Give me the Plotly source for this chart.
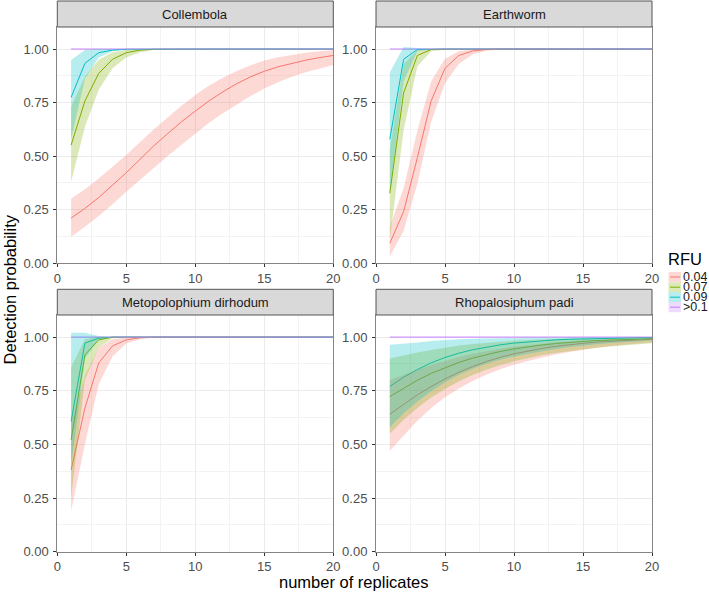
import plotly.graph_objects as go

# ---------------- data ----------------
replicates = [1, 2, 3, 4, 5, 6, 7, 8, 9, 10, 11, 12, 13, 14, 15, 16, 17, 18, 19, 20]
rfu_levels = ["0.04", "0.07", "0.09", ">0.1"]
panels = ["Collembola", "Earthworm", "Metopolophium dirhodum", "Rhopalosiphum padi"]

# Collembola
col_004 = [0.210, 0.255, 0.306, 0.362, 0.422, 0.485, 0.548, 0.605, 0.660, 0.710, 0.758, 0.800, 0.838, 0.870, 0.896, 0.917, 0.934, 0.948, 0.960, 0.970]
col_004_hi = [0.300, 0.345, 0.395, 0.450, 0.505, 0.565, 0.625, 0.680, 0.735, 0.785, 0.830, 0.866, 0.897, 0.924, 0.946, 0.962, 0.974, 0.983, 0.990, 0.995]
col_004_lo = [0.123, 0.170, 0.220, 0.275, 0.333, 0.390, 0.445, 0.500, 0.553, 0.606, 0.655, 0.700, 0.740, 0.780, 0.815, 0.845, 0.870, 0.892, 0.910, 0.925]
col_007 = [0.551, 0.757, 0.886, 0.952, 0.983, 0.995, 0.999, 1.0, 1.0, 1.0, 1.0, 1.0, 1.0, 1.0, 1.0, 1.0, 1.0, 1.0, 1.0, 1.0]
col_007_hi = [0.730, 0.870, 0.950, 0.985, 0.997, 1.0, 1.0, 1.0, 1.0, 1.0, 1.0, 1.0, 1.0, 1.0, 1.0, 1.0, 1.0, 1.0, 1.0, 1.0]
col_007_lo = [0.380, 0.637, 0.810, 0.910, 0.960, 0.985, 0.995, 0.999, 1.0, 1.0, 1.0, 1.0, 1.0, 1.0, 1.0, 1.0, 1.0, 1.0, 1.0, 1.0]
col_009 = [0.774, 0.933, 0.983, 0.995, 0.999, 1.0, 1.0, 1.0, 1.0, 1.0, 1.0, 1.0, 1.0, 1.0, 1.0, 1.0, 1.0, 1.0, 1.0, 1.0]
col_009_hi = [0.949, 0.995, 1.0, 1.0, 1.0, 1.0, 1.0, 1.0, 1.0, 1.0, 1.0, 1.0, 1.0, 1.0, 1.0, 1.0, 1.0, 1.0, 1.0, 1.0]
col_009_lo = [0.580, 0.860, 0.960, 0.990, 0.998, 1.0, 1.0, 1.0, 1.0, 1.0, 1.0, 1.0, 1.0, 1.0, 1.0, 1.0, 1.0, 1.0, 1.0, 1.0]
col_01 = [1.0, 1.0, 1.0, 1.0, 1.0, 1.0, 1.0, 1.0, 1.0, 1.0, 1.0, 1.0, 1.0, 1.0, 1.0, 1.0, 1.0, 1.0, 1.0, 1.0]

# Earthworm
ew_004 = [0.092, 0.240, 0.493, 0.758, 0.910, 0.970, 0.991, 0.998, 1.0, 1.0, 1.0, 1.0, 1.0, 1.0, 1.0, 1.0, 1.0, 1.0, 1.0, 1.0]
ew_004_hi = [0.170, 0.350, 0.620, 0.850, 0.955, 0.990, 0.998, 1.0, 1.0, 1.0, 1.0, 1.0, 1.0, 1.0, 1.0, 1.0, 1.0, 1.0, 1.0, 1.0]
ew_004_lo = [0.030, 0.150, 0.370, 0.660, 0.840, 0.930, 0.975, 0.992, 0.998, 1.0, 1.0, 1.0, 1.0, 1.0, 1.0, 1.0, 1.0, 1.0, 1.0, 1.0]
ew_007 = [0.326, 0.795, 0.970, 0.998, 1.0, 1.0, 1.0, 1.0, 1.0, 1.0, 1.0, 1.0, 1.0, 1.0, 1.0, 1.0, 1.0, 1.0, 1.0, 1.0]
ew_007_hi = [0.530, 0.930, 0.995, 1.0, 1.0, 1.0, 1.0, 1.0, 1.0, 1.0, 1.0, 1.0, 1.0, 1.0, 1.0, 1.0, 1.0, 1.0, 1.0, 1.0]
ew_007_lo = [0.110, 0.620, 0.920, 0.990, 0.998, 1.0, 1.0, 1.0, 1.0, 1.0, 1.0, 1.0, 1.0, 1.0, 1.0, 1.0, 1.0, 1.0, 1.0, 1.0]
ew_009 = [0.578, 0.952, 0.998, 1.0, 1.0, 1.0, 1.0, 1.0, 1.0, 1.0, 1.0, 1.0, 1.0, 1.0, 1.0, 1.0, 1.0, 1.0, 1.0, 1.0]
ew_009_hi = [0.890, 1.010, 1.005, 1.0, 1.0, 1.0, 1.0, 1.0, 1.0, 1.0, 1.0, 1.0, 1.0, 1.0, 1.0, 1.0, 1.0, 1.0, 1.0, 1.0]
ew_009_lo = [0.330, 0.850, 0.990, 0.999, 1.0, 1.0, 1.0, 1.0, 1.0, 1.0, 1.0, 1.0, 1.0, 1.0, 1.0, 1.0, 1.0, 1.0, 1.0, 1.0]
ew_01 = [1.0, 1.0, 1.0, 1.0, 1.0, 1.0, 1.0, 1.0, 1.0, 1.0, 1.0, 1.0, 1.0, 1.0, 1.0, 1.0, 1.0, 1.0, 1.0, 1.0]

# Metopolophium dirhodum
md_004 = [0.381, 0.669, 0.879, 0.959, 0.987, 0.997, 1.0, 1.0, 1.0, 1.0, 1.0, 1.0, 1.0, 1.0, 1.0, 1.0, 1.0, 1.0, 1.0, 1.0]
md_004_hi = [0.600, 0.820, 0.950, 0.990, 0.998, 1.0, 1.0, 1.0, 1.0, 1.0, 1.0, 1.0, 1.0, 1.0, 1.0, 1.0, 1.0, 1.0, 1.0, 1.0]
md_004_lo = [0.190, 0.500, 0.780, 0.910, 0.970, 0.990, 0.998, 1.0, 1.0, 1.0, 1.0, 1.0, 1.0, 1.0, 1.0, 1.0, 1.0, 1.0, 1.0, 1.0]
md_007 = [0.521, 0.917, 0.987, 1.0, 1.0, 1.0, 1.0, 1.0, 1.0, 1.0, 1.0, 1.0, 1.0, 1.0, 1.0, 1.0, 1.0, 1.0, 1.0, 1.0]
md_007_hi = [0.860, 0.990, 1.0, 1.0, 1.0, 1.0, 1.0, 1.0, 1.0, 1.0, 1.0, 1.0, 1.0, 1.0, 1.0, 1.0, 1.0, 1.0, 1.0, 1.0]
md_007_lo = [0.250, 0.800, 0.950, 0.995, 1.0, 1.0, 1.0, 1.0, 1.0, 1.0, 1.0, 1.0, 1.0, 1.0, 1.0, 1.0, 1.0, 1.0, 1.0, 1.0]
md_009 = [0.606, 0.972, 0.995, 1.0, 1.0, 1.0, 1.0, 1.0, 1.0, 1.0, 1.0, 1.0, 1.0, 1.0, 1.0, 1.0, 1.0, 1.0, 1.0, 1.0]
md_009_hi = [1.020, 1.020, 1.005, 1.0, 1.0, 1.0, 1.0, 1.0, 1.0, 1.0, 1.0, 1.0, 1.0, 1.0, 1.0, 1.0, 1.0, 1.0, 1.0, 1.0]
md_009_lo = [0.400, 0.900, 0.990, 1.0, 1.0, 1.0, 1.0, 1.0, 1.0, 1.0, 1.0, 1.0, 1.0, 1.0, 1.0, 1.0, 1.0, 1.0, 1.0, 1.0]
md_01 = [1.0, 1.0, 1.0, 1.0, 1.0, 1.0, 1.0, 1.0, 1.0, 1.0, 1.0, 1.0, 1.0, 1.0, 1.0, 1.0, 1.0, 1.0, 1.0, 1.0]

# Rhopalosiphum padi
rp_004 = [0.641, 0.688, 0.731, 0.770, 0.805, 0.836, 0.863, 0.886, 0.906, 0.922, 0.936, 0.947, 0.957, 0.965, 0.971, 0.977, 0.981, 0.985, 0.987, 0.990]
rp_004_hi = [0.800, 0.825, 0.848, 0.870, 0.890, 0.907, 0.922, 0.935, 0.946, 0.955, 0.963, 0.970, 0.976, 0.980, 0.984, 0.987, 0.990, 0.992, 0.993, 0.995]
rp_004_lo = [0.470, 0.540, 0.610, 0.670, 0.720, 0.760, 0.795, 0.825, 0.850, 0.871, 0.889, 0.905, 0.919, 0.931, 0.941, 0.950, 0.958, 0.965, 0.971, 0.976]
rp_007 = [0.723, 0.763, 0.799, 0.831, 0.858, 0.882, 0.902, 0.919, 0.933, 0.945, 0.955, 0.963, 0.970, 0.976, 0.980, 0.984, 0.987, 0.989, 0.991, 0.993]
rp_007_hi = [0.900, 0.915, 0.928, 0.940, 0.952, 0.961, 0.968, 0.974, 0.979, 0.983, 0.986, 0.989, 0.991, 0.993, 0.994, 0.995, 0.996, 0.997, 0.997, 0.998]
rp_007_lo = [0.550, 0.615, 0.670, 0.718, 0.758, 0.793, 0.823, 0.848, 0.869, 0.887, 0.902, 0.915, 0.926, 0.935, 0.943, 0.950, 0.956, 0.962, 0.967, 0.971]
rp_009 = [0.770, 0.813, 0.849, 0.880, 0.905, 0.925, 0.941, 0.954, 0.964, 0.972, 0.978, 0.983, 0.987, 0.990, 0.992, 0.994, 0.995, 0.996, 0.997, 0.998]
rp_009_hi = [0.964, 0.968, 0.975, 0.982, 0.987, 0.990, 0.992, 0.994, 0.995, 0.996, 0.997, 0.997, 0.998, 0.998, 0.998, 0.999, 0.999, 0.999, 0.999, 0.999]
rp_009_lo = [0.580, 0.645, 0.700, 0.748, 0.790, 0.825, 0.853, 0.876, 0.895, 0.910, 0.923, 0.935, 0.945, 0.954, 0.961, 0.967, 0.972, 0.977, 0.981, 0.984]
rp_01 = [1.0, 1.0, 1.0, 1.0, 1.0, 1.0, 1.0, 1.0, 1.0, 1.0, 1.0, 1.0, 1.0, 1.0, 1.0, 1.0, 1.0, 1.0, 1.0, 1.0]

y_ticks = [0, 0.25, 0.5, 0.75, 1.0]
y_ticktext = ["0.00", "0.25", "0.50", "0.75", "1.00"]
x_ticks = [0, 5, 10, 15, 20]

# ---------------- styling ----------------
line_colors = ["#F8766D", "#7CAE00", "#00BFC4", "#C77CFF"]
fill_colors = ["rgba(248,118,109,0.28)", "rgba(124,174,0,0.28)",
               "rgba(0,191,196,0.28)", "rgba(199,124,255,0.28)"]
FONT = "Liberation Sans, Arial, Helvetica, sans-serif"

panel_data = {
    "Collembola": [(col_004, col_004_lo, col_004_hi), (col_007, col_007_lo, col_007_hi),
                   (col_009, col_009_lo, col_009_hi), (col_01, None, None)],
    "Earthworm": [(ew_004, ew_004_lo, ew_004_hi), (ew_007, ew_007_lo, ew_007_hi),
                  (ew_009, ew_009_lo, ew_009_hi), (ew_01, None, None)],
    "Metopolophium dirhodum": [(md_004, md_004_lo, md_004_hi), (md_007, md_007_lo, md_007_hi),
                               (md_009, md_009_lo, md_009_hi), (md_01, None, None)],
    "Rhopalosiphum padi": [(rp_004, rp_004_lo, rp_004_hi), (rp_007, rp_007_lo, rp_007_hi),
                           (rp_009, rp_009_lo, rp_009_hi), (rp_01, None, None)],
}

W, H = 709, 594
def px_x(v):
    return v / W
def px_y(v):
    return 1 - v / H

x_domains = [[px_x(57.3), px_x(333.3)], [px_x(376.0), px_x(652.0)]]
y_domains = [[px_y(263.0), px_y(27.0)], [px_y(551.7), px_y(315.0)]]
strip_y = [(px_y(27.0), px_y(1.0)), (px_y(315.0), px_y(289.3))]

fig = go.Figure()
layout_axes = {}
shapes = []
annotations = []

for i, name in enumerate(panels):
    row, col = divmod(i, 2)
    k = "" if i == 0 else str(i + 1)
    xref, yref = "x" + k, "y" + k
    series = panel_data[name]
    # lines first, ribbons drawn over them (as in the original)
    for j, (mid, lo, hi) in enumerate(series):
        fig.add_trace(go.Scatter(
            x=replicates, y=mid, mode="lines",
            line=dict(color=line_colors[j], width=1),
            name=rfu_levels[j], showlegend=False,
            xaxis=xref, yaxis=yref))
    for j, (mid, lo, hi) in enumerate(series):
        if lo is None:
            continue
        fig.add_trace(go.Scatter(
            x=replicates + replicates[::-1], y=hi + lo[::-1],
            fill="toself", fillcolor=fill_colors[j], line=dict(width=0),
            mode="lines", hoverinfo="skip", showlegend=False,
            xaxis=xref, yaxis=yref))

    common = dict(ticks="outside", ticklen=3, tickwidth=1, tickcolor="#333333",
                  showline=True, linecolor="#858585", linewidth=1, mirror=True,
                  showgrid=True, gridcolor="#EBEBEB", gridwidth=1, zeroline=False,
                  tickfont=dict(family=FONT, size=13, color="#4D4D4D"),
                  fixedrange=True, automargin=False)
    layout_axes["xaxis" + k] = dict(
        domain=x_domains[col], anchor=yref, range=[0, 20], tickvals=x_ticks,
        minor=dict(tickvals=[2.5, 7.5, 12.5, 17.5], showgrid=True,
                   gridcolor="#F3F3F3", gridwidth=1, ticks=""),
        **common)
    layout_axes["yaxis" + k] = dict(
        domain=y_domains[row], anchor=xref, range=[0, 1.103],
        tickvals=y_ticks, ticktext=y_ticktext, ticklabelstandoff=2,
        minor=dict(tickvals=[0.125, 0.375, 0.625, 0.875], showgrid=True,
                   gridcolor="#F3F3F3", gridwidth=1, ticks=""),
        **common)

    # facet strip
    sy0, sy1 = strip_y[row]
    shapes.append(dict(type="rect", xref="paper", yref="paper",
                       x0=x_domains[col][0], x1=x_domains[col][1], y0=sy0, y1=sy1,
                       fillcolor="#D9D9D9", line=dict(color="#555555", width=1), layer="above"))
    annotations.append(dict(text=name, xref="paper", yref="paper",
                            x=(x_domains[col][0] + x_domains[col][1]) / 2, y=(sy0 + sy1) / 2,
                            xanchor="center", yanchor="middle", showarrow=False,
                            font=dict(family=FONT, size=13, color="#1A1A1A")))

# axis titles
annotations.append(dict(text="Detection probability", xref="paper", yref="paper",
                        x=px_x(9), y=px_y(289.5), textangle=-90, showarrow=False,
                        xanchor="center", yanchor="middle",
                        font=dict(family=FONT, size=16.5, color="#000000")))
annotations.append(dict(text="number of replicates", xref="paper", yref="paper",
                        x=px_x(354), y=px_y(582), showarrow=False,
                        xanchor="center", yanchor="middle",
                        font=dict(family=FONT, size=16.5, color="#000000")))

# legend (drawn as a ggplot-style guide)
annotations.append(dict(text="RFU", xref="paper", yref="paper", x=px_x(665.5), y=px_y(259),
                        xanchor="left", yanchor="middle", showarrow=False,
                        font=dict(family=FONT, size=16.5, color="#000000")))
row_centers = [277.0, 287.2, 297.2, 307.2]
for j, lab in enumerate(rfu_levels):
    cy = row_centers[j]
    shapes.append(dict(type="rect", xref="paper", yref="paper",
                       x0=px_x(668.5), x1=px_x(681), y0=px_y(cy + 5), y1=px_y(cy - 5),
                       fillcolor=fill_colors[j], line=dict(width=0)))
    shapes.append(dict(type="line", xref="paper", yref="paper",
                       x0=px_x(670), x1=px_x(680), y0=px_y(cy), y1=px_y(cy),
                       line=dict(color=line_colors[j], width=1)))
    annotations.append(dict(text=lab, xref="paper", yref="paper", x=px_x(680.5), y=px_y(cy),
                            xanchor="left", yanchor="middle", showarrow=False,
                            font=dict(family=FONT, size=12.5, color="#1A1A1A")))

fig.update_layout(
    width=W, height=H,
    margin=dict(l=0, r=0, t=0, b=0),
    paper_bgcolor="white", plot_bgcolor="white",
    showlegend=False,
    shapes=shapes, annotations=annotations,
    font=dict(family=FONT),
    **layout_axes)

fig.write_html("out.html", config={"displayModeBar": False},
               post_script="document.body.style.margin='0';document.body.style.overflow='hidden';")
